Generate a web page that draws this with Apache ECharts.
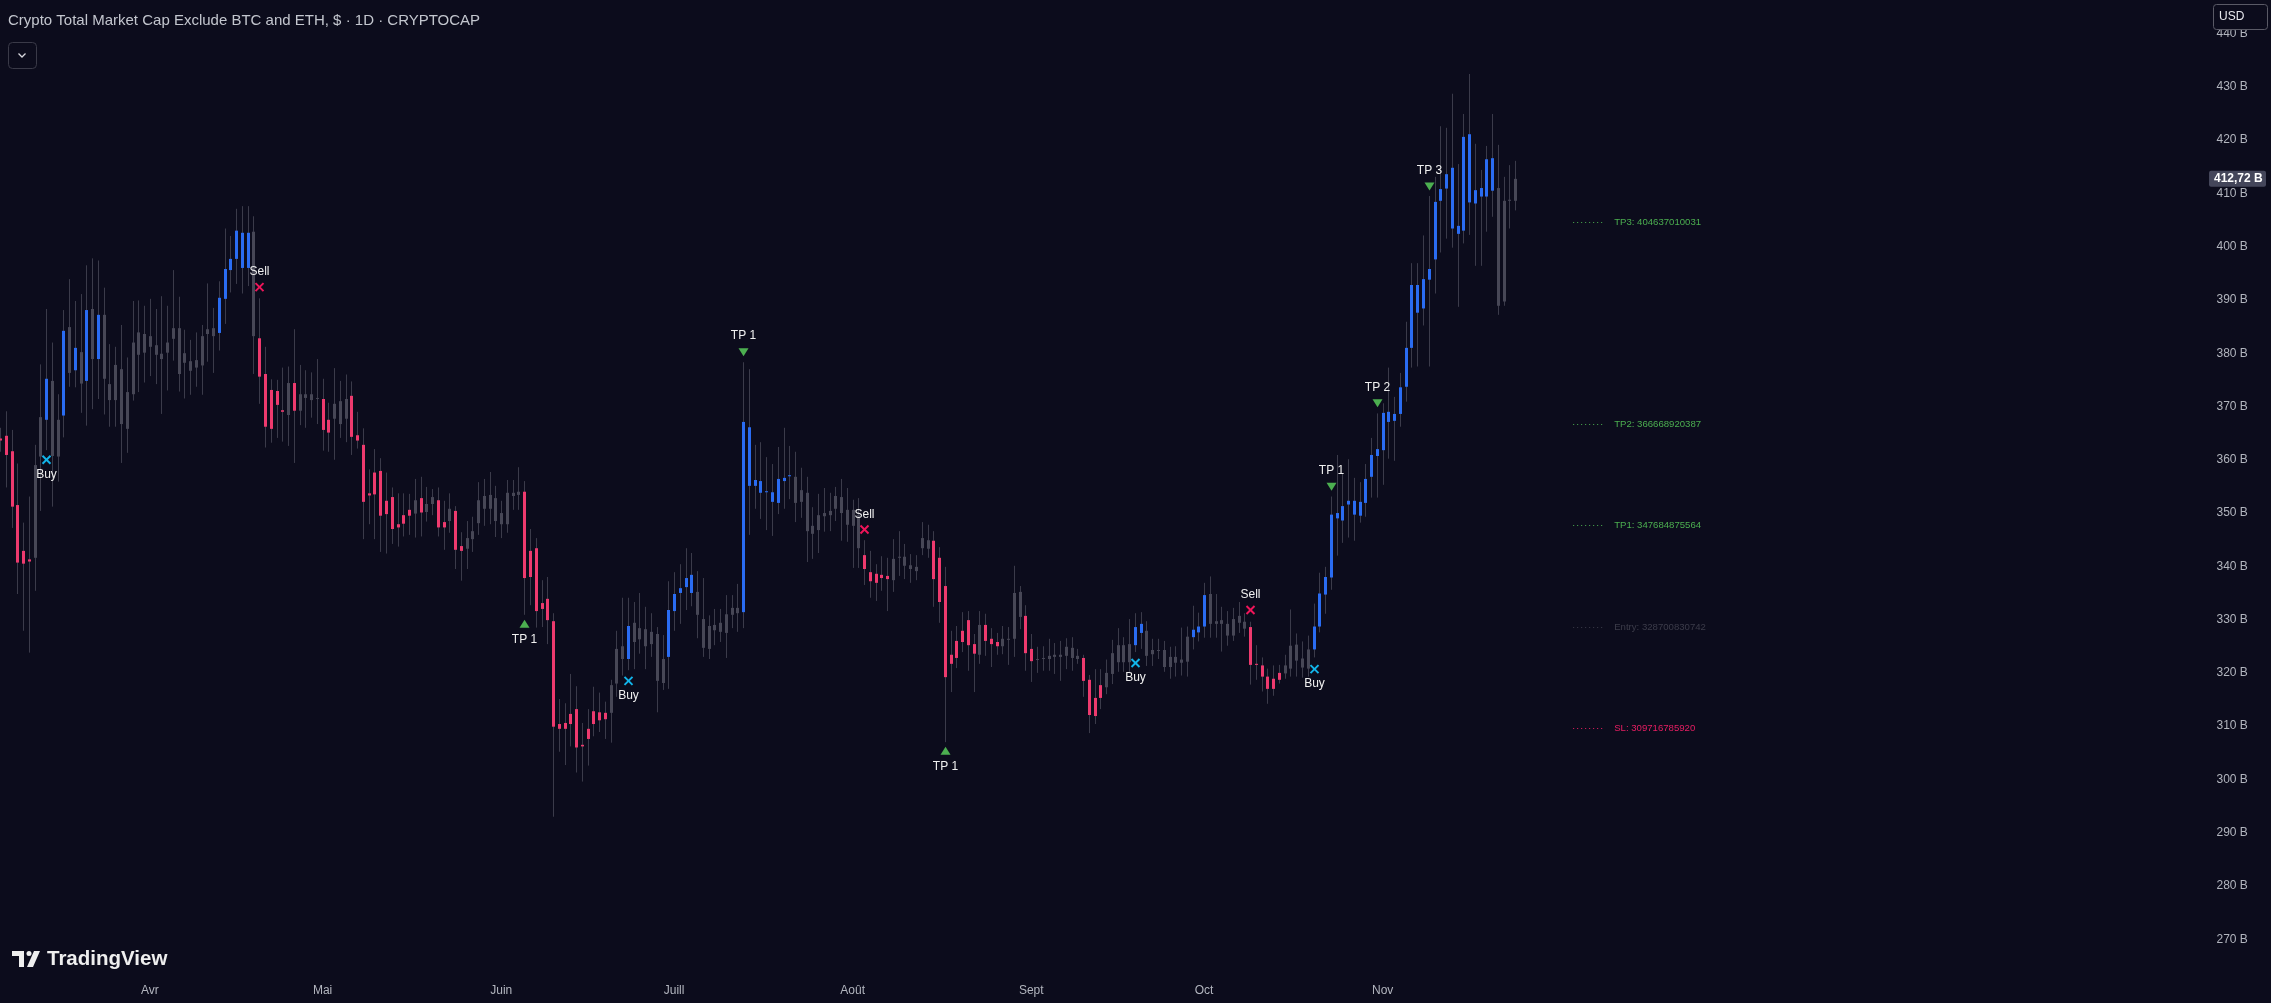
<!DOCTYPE html>
<html><head><meta charset="utf-8">
<script src="https://cdn.jsdelivr.net/npm/echarts@6/dist/echarts.min.js"></script>
<style>html,body{margin:0;padding:0;background:#0c0c1c;}#c{width:2271px;height:1003px;}</style>
</head><body><div id="c"></div>
<script>
// ---------- DATA ----------
const firstDate = '2023-03-06';
const slotCount = 384;
const monthNames = ['Janv','Févr','Mars','Avr','Mai','Juin','Juill','Août','Sept','Oct','Nov','Déc'];
const priceTicks = [270,280,290,300,310,320,330,340,350,360,370,380,390,400,410,420,430,440];

const open = [364.0,364.5,361.6,351.5,342.9,341.3,341.6,360.6,367.5,374.8,360.6,368.3,384.9,376.8,380.2,374.8,388.3,378.9,387.2,374.2,
371.2,377.0,365.8,372.3,383.9,380.1,383.2,381.5,379.9,380.1,382.7,384.7,378.2,378.5,377.3,377.7,383.6,384.7,383.8,390.2,
395.6,397.7,396.0,396.0,402.8,382.8,376.1,373.1,372.9,369.3,368.4,374.4,369.2,372.3,371.2,371.6,371.4,367.5,367.7,371.0,
367.7,372.0,364.6,362.8,353.7,357.6,357.9,352.3,353.0,347.9,349.6,350.6,349.9,352.8,350.2,351.7,352.4,348.3,348.5,350.4,
343.8,343.3,345.1,348.1,353.2,350.8,352.8,347.9,347.9,353.8,353.4,354.0,342.9,343.4,333.1,333.9,329.7,310.4,310.6,312.3,
313.2,306.5,309.5,312.8,312.6,312.5,312.5,318.0,325.0,322.6,329.4,326.3,328.2,325.4,327.3,318.1,323.0,331.6,335.0,336.1,
335.0,335.2,330.1,324.5,329.0,327.7,331.0,330.9,332.2,331.4,366.1,355.1,356.0,353.9,353.9,351.9,356.0,356.9,356.8,352.1,
353.8,346.1,346.8,349.4,349.6,350.8,353.0,350.6,347.6,349.6,342.1,338.9,338.6,338.4,338.2,337.4,341.6,341.8,340.2,339.1,
343.4,344.9,344.8,341.6,336.3,323.4,326.0,327.9,329.9,325.4,323.4,329.0,326.4,325.8,325.0,326.4,326.4,335.2,330.7,324.5,
322.5,322.7,322.6,323.0,323.4,323.2,324.7,323.2,322.8,318.7,315.3,317.7,317.3,319.8,325.2,322.0,325.4,325.2,327.5,327.9,
323.5,324.3,324.3,321.1,323.0,321.9,322.1,326.7,327.6,328.7,334.8,329.2,329.9,329.2,327.0,329.4,329.6,328.6,321.7,321.4,
319.3,318.9,320.0,319.9,320.8,325.3,322.7,320.8,324.4,328.7,334.7,337.9,349.0,348.6,351.6,352.3,349.5,351.9,356.8,360.7,
361.8,369.0,367.3,368.6,373.7,381.0,392.8,388.4,393.8,397.6,408.6,410.9,414.8,403.9,403.0,421.1,408.1,411.0,409.4,416.6,
411.0,389.7,408.6,408.6];
const high = [366.0,369.1,365.6,359.3,348.2,353.1,362.8,377.9,388.3,382.0,372.3,388.1,393.9,389.8,391.1,396.5,397.8,397.4,392.3,381.7,
381.2,385.3,379.2,389.8,389.9,388.9,390.2,388.3,390.7,388.9,395.6,390.6,384.4,382.5,383.9,385.3,393.1,388.5,393.5,403.4,
402.0,407.1,407.6,407.6,405.7,390.3,381.2,375.1,375.0,377.3,377.5,384.5,377.8,376.8,376.4,378.9,375.2,370.7,377.2,374.8,
376.0,374.7,369.0,365.9,358.2,362.0,360.3,357.6,354.8,353.7,353.7,353.6,356.4,356.8,354.9,354.5,354.8,352.3,353.7,351.3,
346.4,348.5,349.3,355.8,356.4,357.7,355.1,352.3,356.2,356.2,358.6,356.0,347.0,345.3,337.4,338.0,331.2,315.1,314.3,319.8,
317.5,310.6,313.2,317.4,316.3,314.6,318.7,327.9,334.1,334.1,333.3,335.0,332.4,331.2,328.6,327.1,337.2,338.9,340.4,343.4,
342.5,339.1,337.8,330.8,332.0,332.0,334.6,334.6,336.7,378.3,377.0,362.8,363.3,360.5,359.2,362.4,366.0,362.6,361.5,358.5,
356.8,351.1,353.6,354.7,353.8,354.9,356.4,354.7,352.5,352.8,344.9,342.9,340.4,341.9,341.6,345.1,346.6,344.2,342.3,342.1,
348.3,347.8,346.6,343.6,339.9,327.9,328.8,331.4,331.6,327.3,331.6,331.1,328.4,327.5,328.8,328.6,340.1,336.3,332.7,327.3,
324.9,325.0,326.4,325.6,326.0,326.5,326.7,324.5,323.4,319.6,320.7,320.7,322.5,326.2,328.4,326.7,330.1,331.2,331.4,329.7,
326.4,326.4,326.0,324.9,325.0,328.5,328.7,332.6,331.3,336.9,338.1,334.8,332.4,331.6,332.2,333.3,331.2,329.6,325.2,322.9,
320.8,321.4,321.5,323.4,331.9,327.4,325.9,327.0,333.0,338.8,339.9,353.1,360.9,357.5,360.1,356.6,355.8,359.2,364.1,368.7,
370.6,377.3,371.8,376.3,385.9,396.9,396.9,402.1,409.5,413.1,422.6,422.3,428.7,415.5,424.9,432.4,419.3,414.4,418.9,424.9,
419.1,413.1,415.3,416.1];
const low = [361.5,354.8,347.2,334.8,327.9,323.8,335.4,350.4,361.8,351.2,355.9,364.2,373.7,373.6,368.8,366.4,369.5,371.4,368.5,366.2,
366.2,359.4,361.3,371.1,372.7,374.5,375.7,374.2,368.6,373.0,378.6,372.8,371.5,372.2,373.7,372.2,378.4,376.3,380.5,385.5,
391.4,393.0,391.2,392.6,376.1,370.5,362.3,363.2,364.1,363.4,362.6,359.4,366.5,366.0,367.9,366.7,361.7,361.5,360.0,364.1,
363.3,360.9,362.1,345.1,347.9,345.1,342.7,342.4,344.2,343.7,345.6,345.9,345.4,345.6,348.4,349.6,345.6,343.1,346.3,339.5,
337.3,339.5,342.7,345.9,347.6,347.9,345.5,345.3,346.3,350.6,350.6,330.9,332.7,328.5,328.6,325.4,293.0,305.2,302.7,306.2,
301.3,299.6,302.6,308.1,308.9,307.6,306.9,315.5,319.5,320.5,320.7,323.6,320.7,323.0,312.6,316.8,317.0,327.9,329.2,331.8,
332.5,326.5,323.0,322.6,325.2,325.8,322.8,328.4,327.7,328.4,345.9,350.8,348.9,346.8,345.7,349.8,350.8,352.6,348.3,349.1,
340.8,341.4,342.5,346.5,346.6,348.5,344.8,344.6,339.7,339.7,336.5,334.1,333.5,335.4,331.6,335.2,338.2,337.6,336.9,337.4,
342.1,341.6,332.4,329.4,307.0,316.4,320.9,323.9,320.4,316.4,321.7,323.2,321.1,323.4,323.5,321.5,323.0,328.2,320.4,318.3,
320.0,320.4,320.4,319.8,318.5,320.7,320.4,321.7,315.5,308.7,310.4,313.2,316.0,317.9,320.2,320.2,320.2,323.9,324.5,321.3,
321.3,322.6,320.2,318.9,319.3,319.5,319.3,324.4,325.9,326.6,326.6,326.6,324.0,325.1,326.0,327.5,326.8,317.8,318.7,316.5,
314.2,315.7,318.0,318.9,319.3,319.3,319.1,319.3,322.9,327.6,331.1,335.6,342.0,344.4,345.4,344.8,348.2,349.3,352.9,352.9,
355.3,360.2,359.8,366.2,370.9,377.3,377.5,385.2,377.5,391.2,398.9,401.5,399.8,388.7,400.6,402.2,396.4,396.4,402.8,405.6,
387.2,388.9,403.4,406.8];
const close = [363.6,360.9,351.2,340.7,340.5,340.9,359.0,368.0,375.2,360.7,367.5,384.2,376.3,381.0,374.3,388.1,378.9,387.2,375.2,371.2,
377.8,366.7,372.7,382.0,379.7,383.6,381.2,379.7,378.9,382.0,384.7,376.1,380.0,376.7,378.7,383.2,384.5,383.2,390.4,395.8,
397.7,403.0,402.6,402.6,383.2,375.6,366.2,365.8,370.3,369.0,374.4,369.2,372.3,371.6,372.3,371.5,365.6,365.1,370.5,366.7,
371.4,364.3,363.6,352.1,353.3,353.5,349.5,349.8,347.0,347.3,348.0,349.5,352.4,350.1,351.7,353.0,347.3,347.3,350.8,343.1,
342.9,345.3,346.6,352.4,350.8,353.4,348.5,350.0,353.8,353.2,354.0,337.8,338.0,331.6,332.0,329.9,309.9,309.5,309.5,310.4,
306.0,306.2,307.6,310.4,311.1,311.3,317.7,324.5,322.6,328.8,325.8,328.4,325.0,327.7,318.5,322.6,331.8,334.8,335.9,337.8,
338.4,330.9,324.7,328.8,328.0,329.4,327.5,332.2,331.2,367.1,355.1,356.2,353.8,354.1,352.1,356.4,356.6,357.1,351.9,354.3,
346.6,347.6,349.6,350.0,350.4,353.2,350.0,347.8,350.6,343.4,339.5,337.2,336.9,337.8,337.6,341.4,341.8,340.1,339.5,339.9,
345.3,343.3,337.6,333.3,319.2,321.7,322.8,325.8,325.2,323.6,329.0,326.0,325.4,325.0,326.4,326.2,335.0,330.5,323.7,322.2,
322.6,322.8,323.2,323.4,323.0,324.9,322.8,322.6,318.5,312.1,311.9,315.3,320.0,323.7,322.0,325.2,322.0,328.6,329.2,323.2,
324.3,324.2,321.1,323.0,321.9,322.5,326.8,328.1,328.7,334.6,329.2,329.7,329.2,327.0,330.1,330.7,328.3,321.5,321.5,319.3,
317.0,317.0,318.7,321.4,325.1,322.3,321.0,324.4,328.7,334.9,338.0,349.7,350.0,351.3,352.3,349.7,352.1,356.4,360.9,362.0,
368.8,367.1,368.6,373.6,381.0,392.8,387.6,393.9,395.8,408.4,410.8,413.6,403.4,402.4,420.6,408.3,410.6,409.4,416.4,410.5,
388.9,408.6,408.8,412.72];
// candle tone: r = bearish signal colour, b = bullish signal colour, g = neutral
const tones = ('rrrrrr'+'gg'+'b'+'gg'+'b'+'g'+'b'+'g'+'b'+'g'+'b'+'gggggggggggggggggggg'+'bbbbbb'+'g'+'rrrrr'+'g'+'r'+'gggg'+'rr'+'ggg'+
 'rrrrrrrrrrr'+'g'+'r'+'gg'+'rr'+'g'+'rr'+'gggggggggg'+'rrrrrrrrrrrrrrr'+'ggg'+'b'+'gggggg'+'bbbbb'+'gggggggg'+'bbbbbbbbb'+
 'gggggggggggg'+'rrrrr'+'ggggggg'+'rrrrrrrr'+'g'+'rrr'+'gggg'+'rr'+'gggggggg'+'rrrr'+'ggggg'+'bb'+'gggggggg'+'bbb'+'ggggggg'+
 'rrrrrr'+'ggggg'+'bbbbbbbbbbbbbbbbbbbbbbbbbbbbbbbb'+'gggg').split('');

const buyIdx = [8,109,197,228];
const buyVal = [360.0,318.5,321.85,320.7];
const sellIdx = [45,150,217];
const sellVal = [392.4,346.9,331.8];
const tpIdx = [91,129,164,231,239,248];
const tpVal = [329.2,380.2,305.4,354.95,370.6,411.3];
const tpText = ['TP 1','TP 1','TP 1','TP 1','TP 2','TP 3'];
const tpBelow = [true,false,true,false,false,false];

const levelNames = ['TP3','TP2','TP1','Entry','SL'];
const levelValues = [404637010031,366668920387,347684875564,328700830742,309716785920];
const lastPrice = 412.72;

// ---------- STYLE ----------
const BG = '#0c0c1c';
const TONE_COLORS = {r:'#ee3a6e', b:'#2a6cf2', g:'#474756'};
const WICK = '#3b3b4a';
const LEVEL_COLORS = ['#4caf50','#4caf50','#4caf50','#3c3c4a','#e91e63'];

if (tones.length !== open.length) { throw new Error('tone length ' + tones.length + ' vs ' + open.length); }

const dates = [];
const d0 = new Date(firstDate + 'T00:00:00Z');
for (let i = 0; i < slotCount; i++) {
  const d = new Date(d0.getTime() + i * 86400000);
  dates.push(d.toISOString().slice(0, 10));
}
const lastIdx = open.length - 1;

const candleData = open.map((o, i) => [i, o, close[i], low[i], high[i]]);

const chart = echarts.init(document.getElementById('c'), null, {renderer: 'canvas', width: 2271, height: 1003});

const FONT = '"Liberation Sans", Arial, sans-serif';

chart.setOption({
  backgroundColor: BG,
  animation: false,
  grid: {left: -1.9, right: 64.5, top: 0, bottom: 31, containLabel: false},
  xAxis: {
    type: 'category', data: dates, boundaryGap: false,
    axisLine: {show: false}, axisTick: {show: false}, splitLine: {show: false},
    axisLabel: {
      color: '#b2b5be', fontSize: 12, fontFamily: FONT, margin: 13,
      interval: (idx, val) => idx <= lastIdx && val.slice(8, 10) === '01',
      formatter: (val) => monthNames[parseInt(val.slice(5, 7), 10) - 1]
    }
  },
  yAxis: {
    type: 'value', position: 'right', min: 263.86, max: 446.29, scale: true,
    axisLine: {show: false}, axisTick: {show: false}, splitLine: {show: false},
    axisLabel: {
      customValues: priceTicks, color: '#b2b5be', fontSize: 12, fontFamily: FONT, margin: 10,
      formatter: (v) => v + ' B'
    }
  },
  series: [
    {
      type: 'custom', name: 'candles', data: candleData, encode: {x: 0, y: [1, 2, 3, 4]},
      renderItem: (params, api) => {
        const i = api.value(0);
        const pO = api.coord([i, api.value(1)]);
        const pC = api.coord([i, api.value(2)]);
        const pL = api.coord([i, api.value(3)]);
        const pH = api.coord([i, api.value(4)]);
        const x = Math.round(pO[0]);
        const top = Math.min(pO[1], pC[1]);
        const bot = Math.max(pO[1], pC[1]);
        const col = TONE_COLORS[tones[params.dataIndex]];
        return {type: 'group', children: [
          {type: 'line', shape: {x1: x + 0.5, y1: pH[1], x2: x + 0.5, y2: pL[1]}, style: {stroke: WICK, lineWidth: 1}},
          {type: 'rect', shape: {x: x - 1, y: top, width: 3, height: Math.max(bot - top, 1)}, style: {fill: col}}
        ]};
      }
    },
    {
      type: 'custom', name: 'buy', data: buyIdx.map((x, k) => [x, buyVal[k]]), encode: {x: 0, y: 1}, z: 5,
      renderItem: (params, api) => {
        const p = api.coord([api.value(0), api.value(1)]);
        const cx = Math.round(p[0]) + 0.5, cy = p[1], s = 4;
        return {type: 'group', children: [
          {type: 'line', shape: {x1: cx - s, y1: cy - s, x2: cx + s, y2: cy + s}, style: {stroke: '#12b5ea', lineWidth: 2}},
          {type: 'line', shape: {x1: cx - s, y1: cy + s, x2: cx + s, y2: cy - s}, style: {stroke: '#12b5ea', lineWidth: 2}},
          {type: 'text', style: {text: 'Buy', x: cx, y: cy + 15, fill: '#f0f0f0', font: '12px ' + FONT, align: 'center', verticalAlign: 'middle'}}
        ]};
      }
    },
    {
      type: 'custom', name: 'sell', data: sellIdx.map((x, k) => [x, sellVal[k]]), encode: {x: 0, y: 1}, z: 5,
      renderItem: (params, api) => {
        const p = api.coord([api.value(0), api.value(1)]);
        const cx = Math.round(p[0]) + 0.5, cy = p[1], s = 4;
        return {type: 'group', children: [
          {type: 'line', shape: {x1: cx - s, y1: cy - s, x2: cx + s, y2: cy + s}, style: {stroke: '#f0155a', lineWidth: 2}},
          {type: 'line', shape: {x1: cx - s, y1: cy + s, x2: cx + s, y2: cy - s}, style: {stroke: '#f0155a', lineWidth: 2}},
          {type: 'text', style: {text: 'Sell', x: cx, y: cy - 15, fill: '#f0f0f0', font: '12px ' + FONT, align: 'center', verticalAlign: 'middle'}}
        ]};
      }
    },
    {
      type: 'custom', name: 'tp', data: tpIdx.map((x, k) => [x, tpVal[k], k]), encode: {x: 0, y: 1}, z: 5,
      renderItem: (params, api) => {
        const k = params.dataIndex;
        const p = api.coord([api.value(0), api.value(1)]);
        const cx = Math.round(p[0]) + 0.5, cy = p[1];
        const w = 5, h = 4;
        const pts = tpBelow[k]
          ? [[cx, cy - h], [cx + w, cy + h], [cx - w, cy + h]]
          : [[cx - w, cy - h], [cx + w, cy - h], [cx, cy + h]];
        return {type: 'group', children: [
          {type: 'polygon', shape: {points: pts}, style: {fill: '#4caf50'}},
          {type: 'text', style: {text: tpText[k], x: cx, y: tpBelow[k] ? cy + 16 : cy - 16, fill: '#f0f0f0', font: '12px ' + FONT, align: 'center', verticalAlign: 'middle'}}
        ]};
      }
    },
    {
      type: 'custom', name: 'levels', data: levelValues.map((v, k) => [lastIdx, v / 1e9, k]), encode: {x: 0, y: 1}, z: 4,
      renderItem: (params, api) => {
        const k = params.dataIndex;
        const p = api.coord([api.value(0), api.value(1)]);
        const y = Math.round(p[1]) + 0.5;
        const col = LEVEL_COLORS[k];
        return {type: 'group', children: [
          {type: 'line', shape: {x1: p[0] + 58, y1: y, x2: p[0] + 90, y2: y}, style: {stroke: col, lineWidth: 1, lineDash: [1, 3]}},
          {type: 'text', style: {text: levelNames[k] + ': ' + levelValues[k], x: p[0] + 99, y: y, fill: col, font: '9.6px ' + FONT, align: 'left', verticalAlign: 'middle'}}
        ]};
      }
    }
  ]
});

// overlays: title, toolbar, last price tag, logo
const yLast = chart.convertToPixel({yAxisIndex: 0}, lastPrice);
chart.setOption({
  graphic: [
    {type: 'text', left: 8, top: 13, z: 100, style: {text: 'Crypto Total Market Cap Exclude BTC and ETH, $ · 1D · CRYPTOCAP', fill: '#c3c6ce', font: '15px ' + FONT}},
    {type: 'rect', left: 8, top: 42, z: 100, shape: {width: 28, height: 26, r: 4}, style: {fill: BG, stroke: '#3a3a48', lineWidth: 1}},
    {type: 'polyline', z: 101, shape: {points: [[18.5, 53.5], [22, 57], [25.5, 53.5]]}, style: {stroke: '#d8d8de', lineWidth: 1.3, fill: null}},
    {type: 'rect', z: 100, shape: {x: 2213.5, y: 4.5, width: 54, height: 25, r: 3}, style: {fill: BG, stroke: '#5a5a66', lineWidth: 1}},
    {type: 'text', z: 101, style: {text: 'USD', x: 2219, y: 17, fill: '#e8e8ee', font: '12px ' + FONT, verticalAlign: 'middle'}},
    {type: 'rect', z: 100, shape: {x: 2209, y: yLast - 8, width: 57, height: 16, r: 2}, style: {fill: '#44465a'}},
    {type: 'text', z: 101, style: {text: lastPrice.toFixed(2).replace('.', ',') + ' B', x: 2214, y: yLast, fill: '#ffffff', font: 'bold 12px ' + FONT, verticalAlign: 'middle'}},
    {type: 'rect', z: 100, shape: {x: 12, y: 951, width: 12, height: 5}, style: {fill: '#eeeeee'}},
    {type: 'rect', z: 100, shape: {x: 19, y: 951, width: 5, height: 16}, style: {fill: '#eeeeee'}},
    {type: 'circle', z: 100, shape: {cx: 29, cy: 953.5, r: 2.5}, style: {fill: '#eeeeee'}},
    {type: 'polygon', z: 100, shape: {points: [[34, 951], [40, 951], [33, 967], [27, 967]]}, style: {fill: '#eeeeee'}},
    {type: 'text', z: 100, style: {text: 'TradingView', x: 47, y: 959, fill: '#eeeeee', font: 'bold 20.5px ' + FONT, verticalAlign: 'middle'}}
  ]
});
</script>
</body></html>
